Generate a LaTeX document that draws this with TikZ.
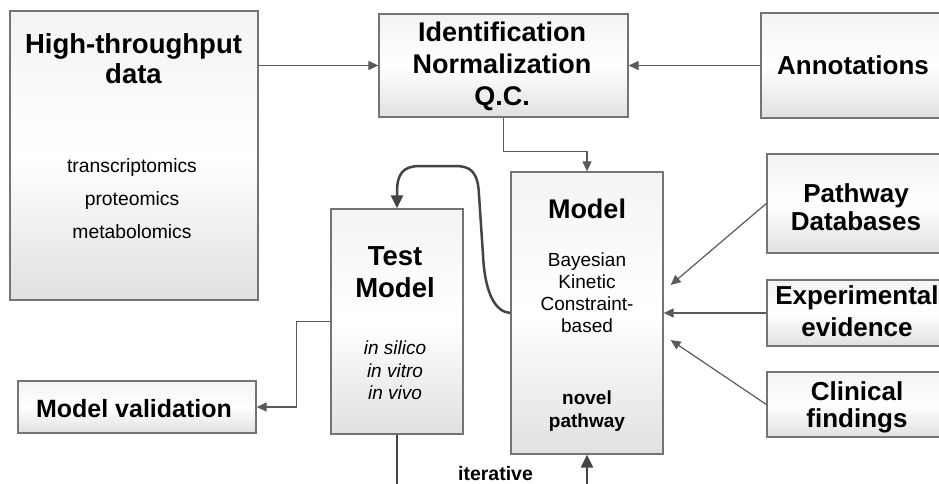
\documentclass[tikz,border=0pt]{standalone}
\usepackage{fontspec}
\setmainfont{Liberation Sans}
\usetikzlibrary{arrows.meta}
\definecolor{boxline}{HTML}{747474}
\definecolor{connthin}{HTML}{5A5A5A}
\definecolor{connthick}{HTML}{444444}
\tikzset{
  box/.style={draw=boxline, line width=1.3pt, inner sep=0pt,
    top color=gray!9, bottom color=gray!24, middle color=white},
  arr/.style={draw=connthin, line width=1.2pt, -{Triangle[length=10pt,width=9pt]}},
  thickarr/.style={draw=connthick, line width=2.5pt, -{Triangle[length=13pt,width=12pt]}},
  thickline/.style={draw=connthick, line width=2.5pt},
  ttl/.style={font=\bfseries\fontsize{26}{30}\selectfont, align=center, inner sep=0pt},
  body/.style={font=\fontsize{19}{22}\selectfont, align=center, inner sep=0pt}
}
\begin{document}
\begin{tikzpicture}[x=1pt,y=-1pt]
\useasboundingbox (0,0) rectangle (939,484);
% boxes
\node[box, minimum width=248pt, minimum height=289pt] (ht) at (134,155.5) {};
\node[box, minimum width=249pt, minimum height=103pt] (ident) at (503.5,65.5) {};
\node[box, minimum width=199pt, minimum height=105pt] (annot) at (860.5,65.5) {};
\node[box, minimum width=152pt, minimum height=282pt] (model) at (587,313) {};
\node[box, minimum width=132pt, minimum height=225pt] (test) at (397,321.5) {};
\node[box, minimum width=238pt, minimum height=52pt] (val) at (137,407) {};
\node[box, minimum width=193pt, minimum height=99pt] (path) at (863.5,203.5) {};
\node[box, minimum width=193pt, minimum height=66pt] (exp) at (863.5,313) {};
\node[box, minimum width=193pt, minimum height=65pt] (clin) at (863.5,404.5) {};
% texts
\node[ttl, font=\bfseries\fontsize{27.5}{30}\selectfont] (httitle) at (133.5,58.5) {High-throughput\\data};
\node[body, font=\fontsize{19.3}{33}\selectfont] (htbody) at (132,199) {transcriptomics\\proteomics\\metabolomics};
\node[ttl, font=\bfseries\fontsize{27}{32}\selectfont] (identtxt) at (502,66) {Identification\\Normalization\\Q.C.};
\node[ttl, anchor=base] (annottxt) at (853,75) {Annotations};
\node[ttl, anchor=base, font=\bfseries\fontsize{27}{32}\selectfont] (modeltitle) at (587,218) {Model};
\node[body] (modelbody) at (587,293) {Bayesian\\Kinetic\\Constraint-\\based};
\node[body, font=\bfseries\fontsize{19}{23}\selectfont] (novel) at (587,411.5) {novel\\pathway};
\node[ttl, font=\bfseries\fontsize{27.5}{32}\selectfont] (testtitle) at (395,272) {Test\\Model};
\node[body, font=\itshape\fontsize{19}{22.5}\selectfont] (testbody) at (395,370.5) {in silico\\in vitro\\in vivo};
\node[ttl, anchor=base, font=\bfseries\fontsize{25}{28}\selectfont] (valtxt) at (134,417) {Model validation};
\node[ttl, font=\bfseries\fontsize{26}{28}\selectfont] (pathtxt) at (856,207.5) {Pathway\\Databases};
\node[ttl, font=\bfseries\fontsize{26}{32}\selectfont] (exptxt) at (857,311.5) {Experimental\\evidence};
\node[ttl, font=\bfseries\fontsize{26}{27}\selectfont] (clintxt) at (857,407) {Clinical\\findings};
\node[anchor=base, inner sep=0pt, font=\bfseries\fontsize{19.5}{22}\selectfont] (iter) at (495.5,480) {iterative};
% free ends
\coordinate (testend) at (397,492);
\coordinate (modelstart) at (587,492);
% connectors
\draw[arr] (ht.east |- ident.west) -- (ident.west);
\draw[arr] (annot.west) -- (ident.east);
\draw[arr] (ident.south) -- ++(0,34) -| (model.north);
\draw[thickarr] (model.west) .. controls (496,312) and (485,295) .. (483,255)
   -- (479,195) .. controls (478,172) and (471,166) .. (455,166)
   -- (420,166) .. controls (403,166) and (397,174) .. (397,192) -- (test.north);
\draw[arr] (test.west) -- ++(-34,0) |- (val.east);
\draw[thickline] (test.south) -- (testend);
\draw[thickarr] (modelstart) -- (model.south);
\draw[arr] (path.west) -- ([xshift=7pt,yshift=28pt]model.east);
\draw[arr] (exp.west) -- (model.east);
\draw[arr] (clin.west) -- ([xshift=7pt,yshift=-27pt]model.east);
\end{tikzpicture}
\end{document}
